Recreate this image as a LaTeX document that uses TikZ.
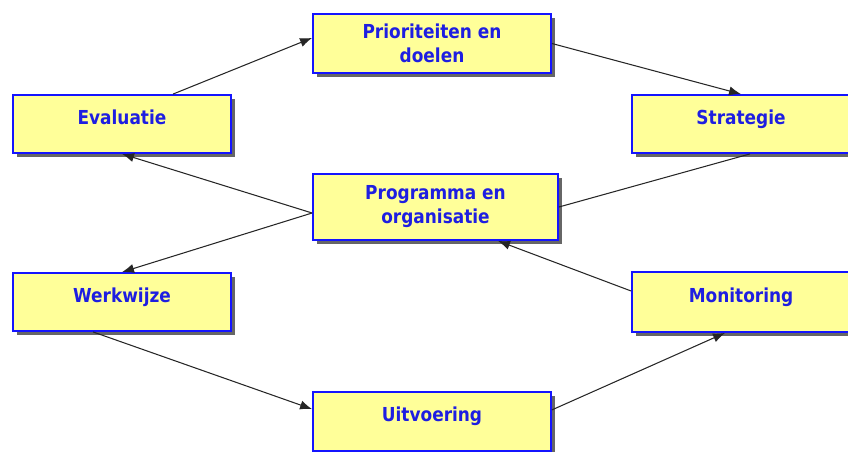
\documentclass[tikz,border=0pt]{standalone}
\usepackage{fontspec}
\newfontfamily\boxfont{DejaVu Sans}[FakeStretch=0.88]
\usetikzlibrary{arrows.meta, shadows}

\definecolor{boxfill}{RGB}{255,255,153}
\definecolor{boxline}{RGB}{20,20,255}
\definecolor{boxtext}{RGB}{30,30,225}

\begin{document}
\begin{tikzpicture}[
    >={Latex[length=3mm,width=2.3mm]},
    box/.style={draw=boxline, line width=1.3pt, fill=boxfill,
        drop shadow={shadow xshift=0.11cm, shadow yshift=-0.11cm, fill=black!60, opacity=1},
        text=boxtext, font=\boxfont\bfseries\fontsize{13.7}{17}\selectfont,
        align=center, inner sep=0pt},
    onebox/.style={box, text height=0.35cm, text depth=0.35cm},
    conn/.style={line width=0.75pt, black!85}
]
    \useasboundingbox (0,0) rectangle (21.2,11.275);

    % Boxes
    \node[box, minimum width=5.95cm, minimum height=1.475cm] (prio) at (10.8,10.1875) {Prioriteiten en\\doelen};
    \node[onebox, minimum width=5.45cm, minimum height=1.45cm] (eval) at (3.05,8.175) {Evaluatie};
    \node[onebox, minimum width=5.45cm, minimum height=1.45cm] (strat) at (18.525,8.175) {Strategie};
    \node[box, minimum width=6.125cm, minimum height=1.65cm] (prog) at (10.8875,6.1) {Programma en\\organisatie};
    \node[onebox, minimum width=5.45cm, minimum height=1.45cm] (werk) at (3.05,3.725) {Werkwijze};
    \node[onebox, minimum width=5.45cm, minimum height=1.5cm] (moni) at (18.525,3.725) {Monitoring};
    \node[onebox, minimum width=5.95cm, minimum height=1.475cm] (uitv) at (10.8,0.7375) {Uitvoering};

    % Arrows
    \draw[conn, ->] ([xshift=1.275cm]eval.north) -- ([yshift=0.14cm]prio.west);
    \draw[conn, ->] (prio.east) -- (strat.north);
    \draw[conn] ([xshift=0.225cm]strat.south) -- (prog.east);
    \draw[conn, ->] ([yshift=-0.15cm]prog.west) -- (eval.south);
    \draw[conn, ->] ([yshift=-0.15cm]prog.west) -- (werk.north);
    \draw[conn, ->] ([xshift=-0.725cm]werk.south) -- ([yshift=0.31cm]uitv.west);
    \draw[conn, ->] ([yshift=0.29cm]uitv.east) -- ([xshift=-0.4cm]moni.south);
    \draw[conn, ->] ([yshift=0.275cm]moni.west) -- ([xshift=1.5625cm]prog.south);
\end{tikzpicture}
\end{document}
